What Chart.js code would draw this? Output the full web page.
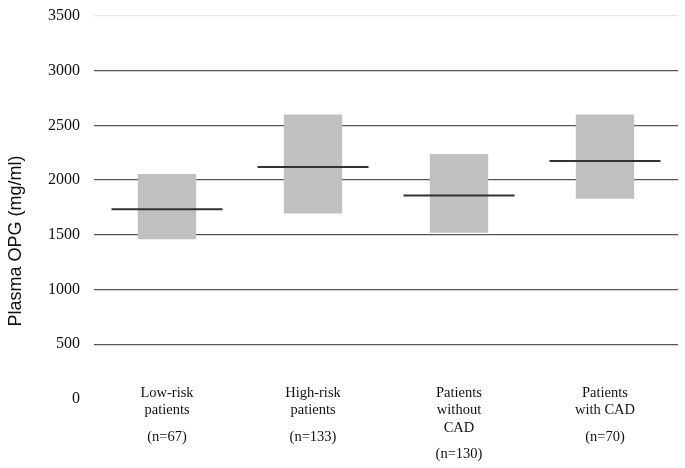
<!DOCTYPE html>
<html>
<head>
<meta charset="utf-8">
<script src="https://cdn.jsdelivr.net/npm/chart.js@4"></script>
<style>
  html, body { margin: 0; padding: 0; background: #fff; }
  #wrap { width: 685px; height: 468px; position: relative; }
</style>
</head>
<body>
<div id="wrap"><canvas id="c"></canvas></div>
<script>
// ---- data ----
const categories = [
  ["Low-risk", "", "patients", "", "", "(n=67)"],
  ["High-risk", "", "patients", "", "", "(n=133)"],
  ["Patients", "", "without", "", "CAD", "", "", "(n=130)"],
  ["Patients", "", "with CAD", "", "", "(n=70)"]
];
const lowerValues = [1460, 1695, 1520, 1830];
const upperValues = [2055, 2600, 2240, 2600];
const medianValues = [1735, 2120, 1860, 2175];
const yTicks = [0, 500, 1000, 1500, 2000, 2500, 3000, 3500];
const yTitle = "Plasma OPG (mg/ml)";

const ranges = lowerValues.map((v, i) => [v, upperValues[i]]);

const yTitlePlugin = {
  id: 'yTitlePlugin',
  afterDraw(chart) {
    const ctx = chart.ctx;
    ctx.save();
    ctx.translate(16, 241);
    ctx.rotate(-Math.PI / 2);
    ctx.font = '18px "Liberation Sans", Arial, sans-serif';
    ctx.fillStyle = '#111';
    ctx.textAlign = 'center';
    ctx.textBaseline = 'middle';
    ctx.fillText(yTitle, 0, 0);
    ctx.restore();
  }
};

new Chart(document.getElementById('c'), {
  type: 'bar',
  data: {
    labels: categories,
    datasets: [
      {
        type: 'line',
        data: medianValues,
        showLine: false,
        pointStyle: 'line',
        pointRadius: 55.5,
        pointHoverRadius: 55.5,
        pointBorderWidth: 2,
        borderColor: '#333',
        backgroundColor: '#333',
        clip: false,
        order: 0
      },
      {
        type: 'bar',
        data: ranges,
        backgroundColor: '#c0c0c0',
        borderWidth: 0,
        barPercentage: 0.4,
        categoryPercentage: 1,
        order: 1
      }
    ]
  },
  options: {
    responsive: true,
    maintainAspectRatio: false,
    animation: false,
    layout: { autoPadding: false, padding: { left: 34, right: 7, top: 0, bottom: 65.75 } },
    plugins: {
      legend: { display: false },
      tooltip: { enabled: false }
    },
    scales: {
      x: {
        grid: { display: false, drawTicks: false },
        border: { display: false },
        ticks: {
          color: '#111',
          mirror: true,
          padding: 1.625,
          maxRotation: 0,
          autoSkip: false,
          font: { family: '"Liberation Serif", "Times New Roman", serif', size: 14.5, lineHeight: '8.75px' }
        }
      },
      y: {
        min: 0,
        max: 3500,
        afterBuildTicks(scale) { scale.ticks = yTicks.map(v => ({ value: v })); },
        afterFit(scale) { scale.paddingTop = 16; },
        grid: {
          drawTicks: false,
          lineWidth: 1.3,
          color(ctx) {
            const v = ctx.tick ? ctx.tick.value : null;
            if (v === 0) return 'rgba(0,0,0,0)';
            if (v === 3500) return '#e6e6e6';
            return '#555';
          }
        },
        border: { display: false },
        ticks: {
          color: '#111',
          padding: 14,
          callback: (v) => String(v),
          font: { family: '"Liberation Serif", "Times New Roman", serif', size: 16 }
        }
      }
    }
  },
  plugins: [yTitlePlugin]
});
</script>
</body>
</html>
